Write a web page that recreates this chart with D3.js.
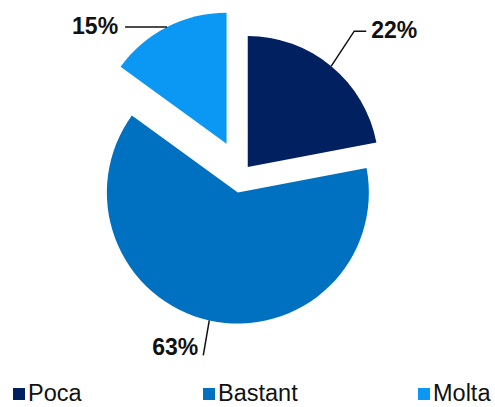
<!DOCTYPE html>
<html><head><meta charset="utf-8">
<script src="https://cdn.jsdelivr.net/npm/d3@7"></script>
<style>body{margin:0;background:#fff}svg{display:block}</style>
</head><body>
<script>
const categories = ["Poca", "Bastant", "Molta"];
const values = [22, 63, 15];
const labels = ["22%", "63%", "15%"];
const colors = ["#002060", "#0070C0", "#0A98F4"];

const W = 495, H = 407;
const cx = 242, cy = 174, R = 131;
const explode = [9, 19, 34];
const leaders = [
  {elbow: [23, -35], hor: 12, anchor: "start", tdx: 5, tdy: 7},
  {elbow: [-6, 35], hor: 0, anchor: "end", tdx: -5, tdy: 0},
  {elbow: [0, 0], hor: -42, anchor: "end", tdx: -7, tdy: 7}
];

const svg = d3.select("body").append("svg").attr("width", W).attr("height", H);
const pie = d3.pie().sort(null).value(d => d)(values);
const arc = d3.arc().innerRadius(0).outerRadius(R);

pie.forEach((p, i) => {
  const mid = (p.startAngle + p.endAngle) / 2;
  const ox = Math.sin(mid) * explode[i], oy = -Math.cos(mid) * explode[i];
  const g = svg.append("g").attr("transform", `translate(${cx + ox},${cy + oy})`);
  g.append("path").attr("d", arc(p)).attr("fill", colors[i]);
  const ax = Math.sin(mid) * R, ay = -Math.cos(mid) * R;
  const L = leaders[i];
  const ex = ax + L.elbow[0], ey = ay + L.elbow[1];
  const hx = ex + L.hor;
  g.append("polyline")
    .attr("points", `${ax},${ay} ${ex},${ey} ${hx},${ey}`)
    .attr("fill", "none").attr("stroke", "#111").attr("stroke-width", 1.5);
  g.append("text")
    .attr("x", hx + L.tdx).attr("y", ey + L.tdy)
    .attr("text-anchor", L.anchor)
    .attr("font-family", "Liberation Sans, Arial, sans-serif")
    .attr("font-weight", "bold").attr("font-size", 23).attr("fill", "#111")
    .text(labels[i]);
});

const legendX = [13, 203, 418];
const lg = svg.append("g");
categories.forEach((c, i) => {
  lg.append("rect").attr("x", legendX[i]).attr("y", 388).attr("width", 12).attr("height", 12).attr("fill", colors[i]);
  lg.append("text").attr("x", legendX[i] + 15).attr("y", 401)
    .attr("font-family", "Liberation Sans, Arial, sans-serif")
    .attr("font-size", 23.5).attr("fill", "#111").text(c);
});
</script>
</body></html>
